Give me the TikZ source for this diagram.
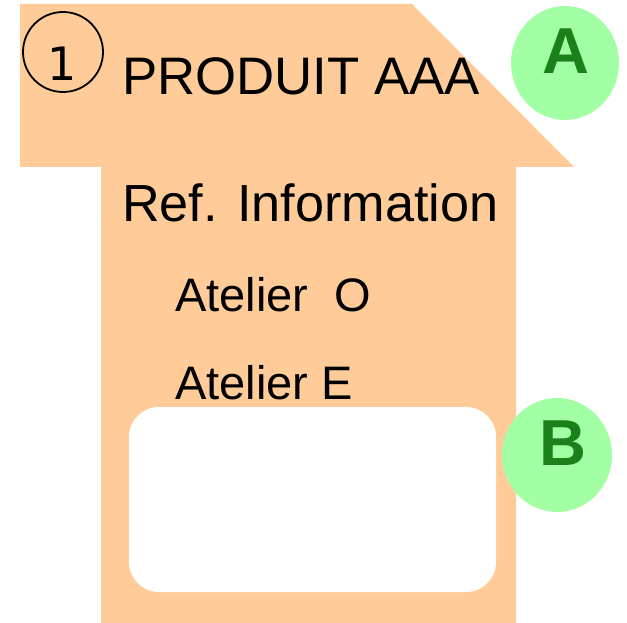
\documentclass[tikz,border=0pt]{standalone}
\usepackage{fontspec}
\setmainfont{Liberation Sans}
\newfontfamily\chiffre{DejaVu Sans}
\usepackage{tikz}
\definecolor{peau}{HTML}{FECB99}
\definecolor{vertclair}{HTML}{A3FFA3}
\definecolor{vertfonce}{HTML}{1A801A}
\tikzset{
    titre/.style={anchor=base west, inner sep=0pt, font=\fontsize{#1}{53}\selectfont},
    atelier/.style={anchor=base west, inner sep=0pt, font=\fontsize{47}{47}\selectfont},
    pastille/.style={fill=vertclair, draw=none},
    lettre/.style={text=vertfonce, inner sep=0pt, font=\fontsize{65}{65}\selectfont\bfseries},
}

\begin{document}
\begin{tikzpicture}[x=1pt, y=-1pt]
    \useasboundingbox (0, 0) rectangle (627, 623);
    \fill[peau](20, 4)--(412, 4)--(574, 167)--(516, 167)--(516, 623)--(101, 623)--(101, 167)--(20, 167)--cycle;
    \fill[white, rounded corners=30pt](129, 407) rectangle (496, 592);
    % numero
    \draw[line width=1.8pt](63, 52) circle[radius=40];
    \node[inner sep=0pt, font=\chiffre\fontsize{46}{46}\selectfont\addfontfeature{FakeBold=-0.3}] (num) at (62, 64) {1};
    % textes
    \node[titre=52.8] (produit) at (122, 95) {PRODUIT AAA};
    \node[titre=52.2] (ref) at (122, 222) {Ref. Information};
    \node[atelier] (atO) at (175, 311) {Atelier\ \ O};
    \node[atelier] (atE) at (175, 399) {Atelier E};
    % pastilles
    \fill[pastille](565, 63) ellipse[x radius=54, y radius=57];
    \node[lettre] (A) at (566, 51) {A};
    \fill[pastille](557, 455) ellipse[x radius=55, y radius=57];
    \node[lettre] (B) at (563, 443) {B};
\end{tikzpicture}
\end{document}
